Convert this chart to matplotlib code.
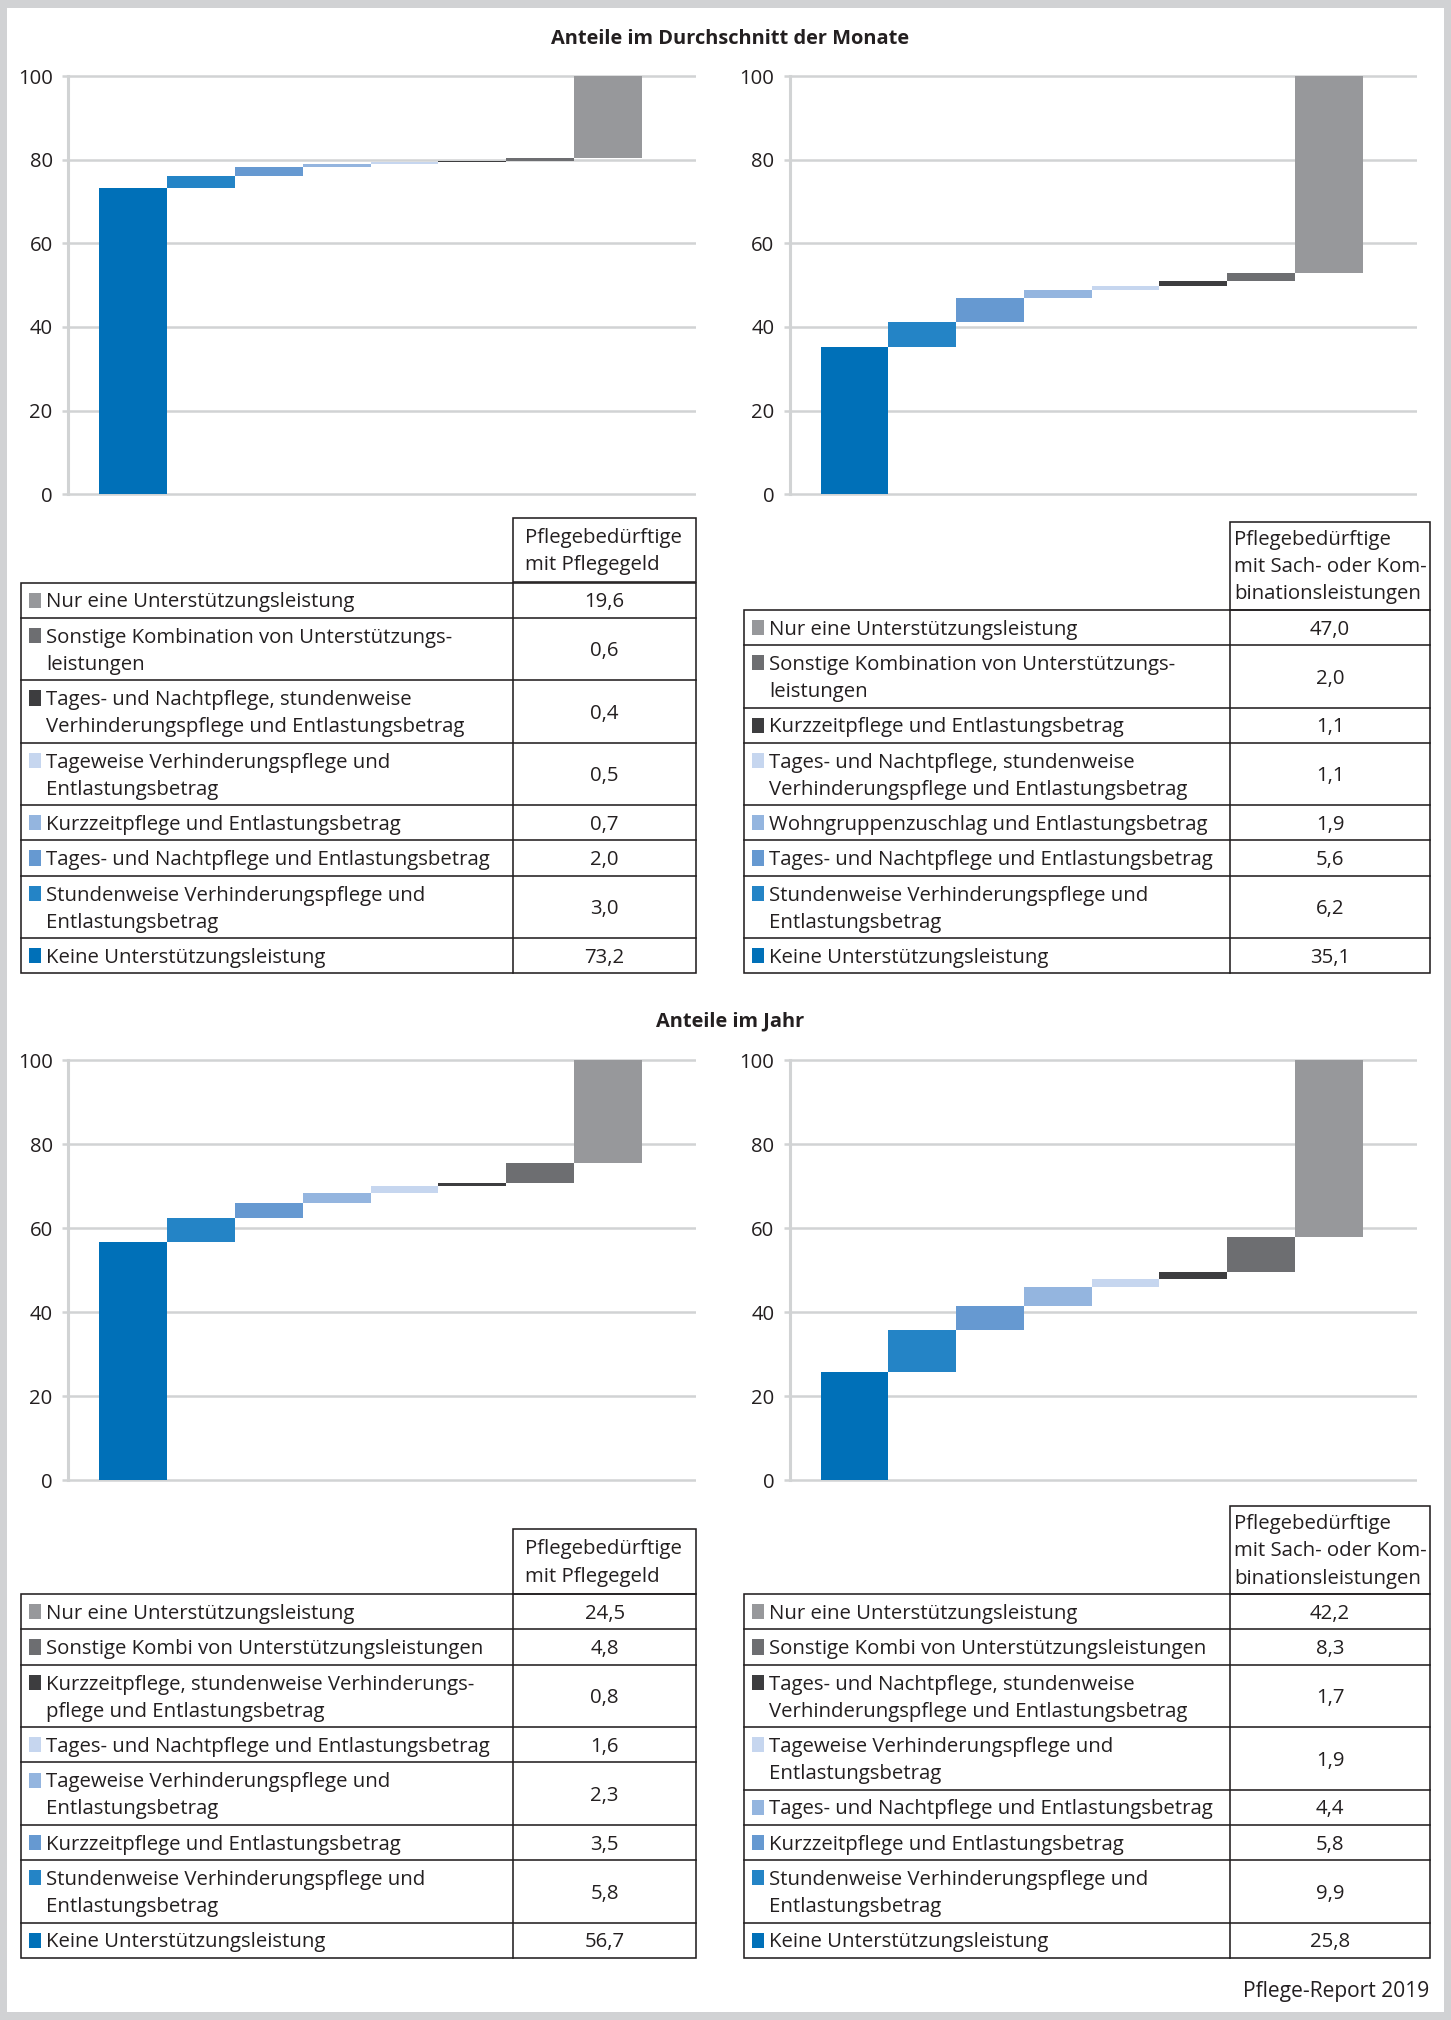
import matplotlib
matplotlib.use("Agg")
import matplotlib.pyplot as plt
from matplotlib.patches import Rectangle
import numpy as np

W, H = 1451, 2020
FONT = "Open Sans"
TXT = "#231f20"
GRID = "#d1d3d4"
FRAME = "#d1d2d4"
LINE = "#231f20"

# ---------------- data ----------------
section_titles = ["Anteile im Durchschnitt der Monate", "Anteile im Jahr"]
source_note = "Pflege-Report 2019"
y_ticks = [0, 20, 40, 60, 80, 100]
bar_colors = ["#0070b8", "#2484c6", "#6699d1", "#94b5df",
              "#c6d6ef", "#3d3d3f", "#6d6e71", "#97989b"]

# values and labels in bar order (left to right); tables list them in reverse
tl_header = "Pflegebedürftige\nmit Pflegegeld"
tl_labels = ["Keine Unterstützungsleistung",
             "Stundenweise Verhinderungspflege und\nEntlastungsbetrag",
             "Tages- und Nachtpflege und Entlastungsbetrag",
             "Kurzzeitpflege und Entlastungsbetrag",
             "Tageweise Verhinderungspflege und\nEntlastungsbetrag",
             "Tages- und Nachtpflege, stundenweise\nVerhinderungspflege und Entlastungsbetrag",
             "Sonstige Kombination von Unterstützungs-\nleistungen",
             "Nur eine Unterstützungsleistung"]
tl_values = [73.2, 3.0, 2.0, 0.7, 0.5, 0.4, 0.6, 19.6]

tr_header = "Pflegebedürftige\nmit Sach- oder Kom-\nbinationsleistungen"
tr_labels = ["Keine Unterstützungsleistung",
             "Stundenweise Verhinderungspflege und\nEntlastungsbetrag",
             "Tages- und Nachtpflege und Entlastungsbetrag",
             "Wohngruppenzuschlag und Entlastungsbetrag",
             "Tages- und Nachtpflege, stundenweise\nVerhinderungspflege und Entlastungsbetrag",
             "Kurzzeitpflege und Entlastungsbetrag",
             "Sonstige Kombination von Unterstützungs-\nleistungen",
             "Nur eine Unterstützungsleistung"]
tr_values = [35.1, 6.2, 5.6, 1.9, 1.1, 1.1, 2.0, 47.0]

bl_header = "Pflegebedürftige\nmit Pflegegeld"
bl_labels = ["Keine Unterstützungsleistung",
             "Stundenweise Verhinderungspflege und\nEntlastungsbetrag",
             "Kurzzeitpflege und Entlastungsbetrag",
             "Tageweise Verhinderungspflege und\nEntlastungsbetrag",
             "Tages- und Nachtpflege und Entlastungsbetrag",
             "Kurzzeitpflege, stundenweise Verhinderungs-\npflege und Entlastungsbetrag",
             "Sonstige Kombi von Unterstützungsleistungen",
             "Nur eine Unterstützungsleistung"]
bl_values = [56.7, 5.8, 3.5, 2.3, 1.6, 0.8, 4.8, 24.5]

br_header = "Pflegebedürftige\nmit Sach- oder Kom-\nbinationsleistungen"
br_labels = ["Keine Unterstützungsleistung",
             "Stundenweise Verhinderungspflege und\nEntlastungsbetrag",
             "Kurzzeitpflege und Entlastungsbetrag",
             "Tages- und Nachtpflege und Entlastungsbetrag",
             "Tageweise Verhinderungspflege und\nEntlastungsbetrag",
             "Tages- und Nachtpflege, stundenweise\nVerhinderungspflege und Entlastungsbetrag",
             "Sonstige Kombi von Unterstützungsleistungen",
             "Nur eine Unterstützungsleistung"]
br_values = [25.8, 9.9, 5.8, 4.4, 1.9, 1.7, 8.3, 42.2]

# ---------------- layout (pixels) ----------------
COLS = {  # chart x range, table left/split/right, header text offset
    "L": dict(ax0=68.4, ax1=696.0, t0=21.3, ts=513.3, t1=696.0, hoff=11.5),
    "R": dict(ax0=790.0, ax1=1416.5, t0=744.0, ts=1230.3, t1=1430.0, hoff=4.0),
}
ROWS = {
    "T": dict(y100=76.3, y0=494.1, tbot=973.3, title_y=36.5),
    "B": dict(y100=1060.0, y0=1480.0, tbot=1957.7, title_y=1019.0),
}
SINGLE_H = 35.2
DOUBLE_H = 62.5
LINE_SP = 26.9
HDR_LINE_SP = 27.3
CAP = 0.714  # cap height / em for Open Sans

fig = plt.figure(figsize=(W / 100, H / 100), dpi=100, facecolor=FRAME)
ov = fig.add_axes([0, 0, 1, 1], zorder=0)
ov.set_xlim(0, W)
ov.set_ylim(H, 0)
ov.axis("off")
ov.add_patch(Rectangle((7, 8), 1437, 2004, facecolor="white", edgecolor="none"))

renderer = fig.canvas.get_renderer()


def fit(text, target, weight="normal"):
    t = fig.text(0, 0, text, fontsize=10, family=FONT, weight=weight)
    w = t.get_window_extent(renderer).width
    t.remove()
    return 10 * target / w


FS_TAB = fit("Tages- und Nachtpflege und Entlastungsbetrag", 446)
FS_TICK = fit("100", 35)
FS_TITLE = fit(section_titles[0], 360, "bold")
FS_NOTE = fit(source_note, 186)


def cap_px(fs):
    return fs * 100 / 72 * CAP


def put(x, yc, s, fs, ha="left", weight="normal"):
    ov.text(x, yc + cap_px(fs) / 2, s, fontsize=fs, family=FONT, weight=weight,
            color=TXT, ha=ha, va="baseline")


def fmt(v):
    return f"{v:.1f}".replace(".", ",")


def add_chart(col, row, values):
    c, r = COLS[col], ROWS[row]
    ppu = (r["y0"] - r["y100"]) / 100
    pad = 0.6
    top = r["y100"] - pad * ppu
    bot = r["y0"] + pad * ppu
    ax = fig.add_axes([c["ax0"] / W, 1 - bot / H, (c["ax1"] - c["ax0"]) / W, (bot - top) / H],
                      zorder=1)
    ax.set_facecolor("none")
    ax.set_ylim(-pad, 100 + pad)
    ax.set_xlim(-0.952, 8.296)
    vals = np.array(values)
    bottoms = np.concatenate([[0], np.cumsum(vals)[:-1]])
    ax.bar(np.arange(len(vals)), vals, bottom=bottoms, width=1.0,
           color=bar_colors, linewidth=0, zorder=2)
    ax.set_yticks(y_ticks)
    ax.set_xticks([])
    ax.yaxis.grid(True, color=GRID, linewidth=1.8)
    ax.set_axisbelow(True)
    for s in ["top", "right", "bottom"]:
        ax.spines[s].set_visible(False)
    ax.spines["left"].set_color(GRID)
    ax.spines["left"].set_linewidth(2.2)
    ax.spines["left"].set_bounds(0, 100)
    ax.tick_params(axis="y", length=4.3, width=1.8, color=GRID, pad=7.0,
                   labelsize=FS_TICK, labelcolor=TXT)
    for lab in ax.get_yticklabels():
        lab.set_family(FONT)


def add_table(col, row, header, labels, values):
    c, r = COLS[col], ROWS[row]
    lw = 1.15
    n_lines = [lab.count("\n") + 1 for lab in labels][::-1]
    heights = [SINGLE_H if n == 1 else DOUBLE_H for n in n_lines]
    body_h = sum(heights)
    body_top = r["tbot"] - body_h
    hn = header.count("\n") + 1
    hh = 64.9 + 23.3 * (hn - 2)
    htop = body_top - hh
    # header box
    ov.add_patch(Rectangle((c["ts"], htop), c["t1"] - c["ts"], hh, fill=False,
                           edgecolor=LINE, linewidth=lw))
    y = htop + (hh - (hn - 1) * HDR_LINE_SP) / 2 - 1
    for ln in header.split("\n"):
        put(c["ts"] + c["hoff"], y, ln, FS_TAB)
        y += HDR_LINE_SP
    # body
    ov.add_patch(Rectangle((c["t0"], body_top), c["t1"] - c["t0"], body_h, fill=False,
                           edgecolor=LINE, linewidth=lw))
    ov.plot([c["ts"], c["ts"]], [body_top, r["tbot"]], color=LINE, lw=lw)
    y = body_top
    labs = labels[::-1]
    vals = values[::-1]
    cols = bar_colors[::-1]
    for lab, v, colr, h, n in zip(labs, vals, cols, heights, n_lines):
        if y > body_top:
            ov.plot([c["t0"], c["t1"]], [y, y], color=LINE, lw=lw)
        first = y + (h - (n - 1) * LINE_SP) / 2
        sq = cap_px(FS_TAB) + 0.5
        ov.add_patch(Rectangle((c["t0"] + 8, first - sq / 2), 11.5, sq,
                               facecolor=colr, edgecolor="none"))
        yy = first
        for ln in lab.split("\n"):
            put(c["t0"] + 25, yy, ln, FS_TAB)
            yy += LINE_SP
        put((c["ts"] + c["t1"]) / 2, y + h / 2, fmt(v), FS_TAB, ha="center")
        y += h


put(730, ROWS["T"]["title_y"], section_titles[0], FS_TITLE, ha="center", weight="bold")
put(730, ROWS["B"]["title_y"], section_titles[1], FS_TITLE, ha="center", weight="bold")

add_chart("L", "T", tl_values)
add_chart("R", "T", tr_values)
add_chart("L", "B", bl_values)
add_chart("R", "B", br_values)

add_table("L", "T", tl_header, tl_labels, tl_values)
add_table("R", "T", tr_header, tr_labels, tr_values)
add_table("L", "B", bl_header, bl_labels, bl_values)
add_table("R", "B", br_header, br_labels, br_values)

put(1428.8, 1990, source_note, FS_NOTE, ha="right")

fig.savefig("out.png", dpi=100, facecolor=FRAME)
